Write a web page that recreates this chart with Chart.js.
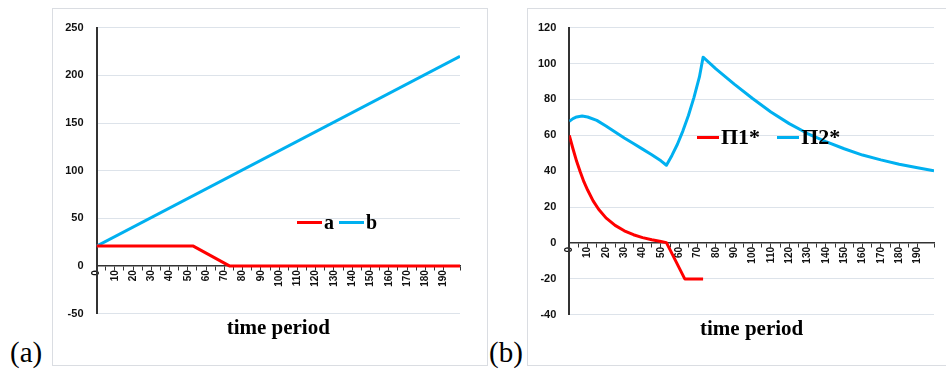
<!DOCTYPE html>
<html>
<head>
<meta charset="utf-8">
<script src="https://cdn.jsdelivr.net/npm/chart.js@4.4.1/dist/chart.umd.min.js"></script>
<style>
  body { margin: 0; width: 946px; height: 371px; background: #fff; position: relative; overflow: hidden; }
  .box { position: absolute; border: 1px solid #dadde2; box-sizing: border-box; }
  canvas { position: absolute; }
  .tag { position: absolute; font-family: 'Liberation Serif', serif; font-size: 29px; line-height: 1; color: #000; }
  .legend { position: absolute; display: flex; align-items: center; font-family: 'Liberation Serif', serif; font-weight: bold; color: #000; line-height: 1; }
  .legend .sw { display: inline-block; height: 3px; }
</style>
</head>
<body>
<div class="box" style="left:52px;top:8px;width:436px;height:358px;"></div>
<div class="box" style="left:527px;top:8px;width:420px;height:358px;"></div>
<canvas id="chartA" width="435" height="357" style="left:52px;top:8px;"></canvas>
<canvas id="chartB" width="419" height="357" style="left:527px;top:8px;"></canvas>
<div class="tag" style="left:10px;top:338px;">(a)</div>
<div class="tag" style="left:489px;top:338px;">(b)</div>
<div id="legendA" class="legend" style="left:297px;top:212px;font-size:20px;"></div>
<div id="legendB" class="legend" style="left:697px;top:126px;font-size:22px;"></div>

<script>
// --- Panel (a) data: break points
const aTime = [0, 53, 73, 199];
const aValues = [21, 21, 0, 0];
const bTime = [0, 199];
const bValues = [21, 220];

// --- Panel (b) data
const p1Time = [0, 2, 4, 6, 8, 10, 13, 16, 20, 25, 30, 35, 40, 45, 50, 53, 63, 73];
const p1Values = [60, 52.5, 45.5, 39.5, 34, 29.5, 23.5, 18.8, 14, 9.8, 6.8, 4.6, 3, 1.8, 0.8, 0.2, -20, -20];
const p2Time = [0, 2, 4, 7, 10, 15, 20, 25, 30, 35, 40, 45, 50, 53, 56, 59, 62, 65, 68, 71, 73,
                80, 90, 100, 110, 120, 130, 140, 150, 160, 170, 180, 190, 199];
const p2Values = [67.8, 69.3, 70.2, 70.7, 70.2, 68.3, 65.2, 61.8, 58.5, 55.4, 52.3, 49.2, 45.8, 43.3, 48.8, 55, 62.5, 71, 81, 92.5, 103.5,
                  97, 88.5, 80.5, 73, 66.5, 61, 56.5, 52.5, 49, 46.3, 43.9, 41.9, 40.3];

const RED = '#FF0000';
const BLUE = '#00B0F0';
const GRID = '#dde3ea';
const AXIS = '#333333';

function toPoints(xs, ys) {
    return xs.map((x, i) => ({ x: x, y: ys[i] }));
}

function lineSet(label, xs, ys, color) {
    return {
        label: label,
        data: toPoints(xs, ys),
        borderColor: color,
        backgroundColor: color,
        borderWidth: 3,
        pointRadius: 0,
        tension: 0,
        borderJoinStyle: 'round',
        fill: false
    };
}

// shared options, only the y range and the paddings differ
function buildOptions(yMin, yMax, yStep, yWidth, padding) {
    return {
        responsive: false,
        animation: false,
        layout: { padding: padding },
        scales: {
            x: {
                type: 'linear',
                min: 0,
                max: 199,
                position: { y: 0 },
                ticks: {
                    stepSize: 5,
                    autoSkip: false,
                    minRotation: 90,
                    maxRotation: 90,
                    padding: 0,
                    color: '#111',
                    font: { family: 'Liberation Sans', size: 10, weight: 'bold' },
                    callback: v => (v % 10 === 0 ? String(v) : '')
                },
                grid: { drawOnChartArea: false, drawTicks: true, tickLength: 4, color: AXIS },
                border: { display: true, color: AXIS, width: 1.5 }
            },
            y: {
                min: yMin,
                max: yMax,
                ticks: {
                    stepSize: yStep,
                    padding: 13,
                    color: '#111',
                    font: { family: 'Liberation Sans', size: 11, weight: 'bold' }
                },
                grid: {
                    drawTicks: false,
                    color: ctx => (ctx.tick && ctx.tick.value === 0 ? 'rgba(0,0,0,0)' : GRID)
                },
                border: { display: true, color: AXIS, width: 2 },
                afterFit: scale => { scale.width = yWidth; }
            }
        },
        plugins: {
            legend: { display: false },
            tooltip: { enabled: false },
            title: {
                display: true,
                position: 'bottom',
                fullSize: false,
                text: 'time period',
                color: '#000',
                font: { family: 'Liberation Serif', size: 21, weight: 'bold' },
                padding: { top: 2, bottom: 0 }
            }
        }
    };
}

// HTML legend built from the dataset labels and colours
function buildLegend(chart, el, swatchW, gap) {
    chart.data.datasets.forEach((ds, i) => {
        const sw = document.createElement('span');
        sw.className = 'sw';
        sw.style.width = swatchW + 'px';
        sw.style.background = ds.borderColor;
        sw.style.marginLeft = i ? gap + 'px' : '0';
        sw.style.marginRight = '2px';
        const txt = document.createElement('span');
        txt.textContent = ds.label;
        el.appendChild(sw);
        el.appendChild(txt);
    });
}

const chartA = new Chart(document.getElementById('chartA'), {
    type: 'line',
    data: {
        datasets: [
            lineSet('a', aTime, aValues, RED),
            lineSet('b', bTime, bValues, BLUE)
        ]
    },
    options: buildOptions(-50, 250, 50, 44.5, { left: 0, right: 27, top: 14, bottom: 24 })
});

const chartB = new Chart(document.getElementById('chartB'), {
    type: 'line',
    data: {
        datasets: [
            lineSet('\u03A01*', p1Time, p1Values, RED),
            lineSet('\u03A02*', p2Time, p2Values, BLUE)
        ]
    },
    options: buildOptions(-40, 120, 20, 42.3, { left: 0, right: 11, top: 12.7, bottom: 23 })
});

buildLegend(chartA, document.getElementById('legendA'), 25, 5);
buildLegend(chartB, document.getElementById('legendB'), 22, 17);
</script>
</body>
</html>
